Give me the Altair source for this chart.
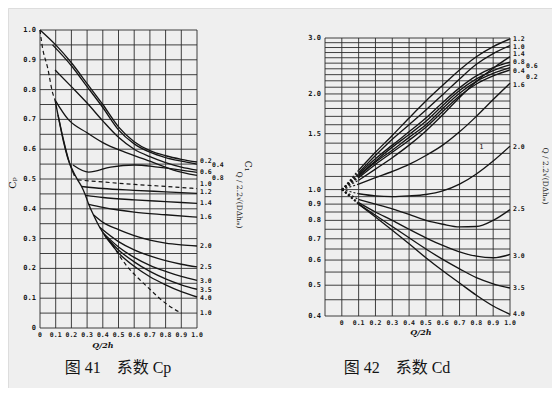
import altair as alt
import pandas as pd

INK = "#151515"
GRID = "#2b2b2b"
MONO = "DejaVu Sans Mono"

# ---------------- Fig. 41 : coefficient Cp ----------------
cp_x_ticks = [0.0, 0.1, 0.2, 0.3, 0.4, 0.5, 0.6, 0.7, 0.8, 0.9, 1.0]
cp_x_tick_labels = ["0", "0.1", "0.2", "0.3", "0.4", "0.5", "0.6", "0.7", "0.8", "0.9", "1.0"]
cp_y_ticks = [0.0, 0.1, 0.2, 0.3, 0.4, 0.5, 0.6, 0.7, 0.8, 0.9, 1.0]
cp_y_tick_labels = ["0", "0.1", "0.2", "0.3", "0.4", "0.5", "0.6", "0.7", "0.8", "0.9", "1.0"]
cp_grid_x = [round(0.1 * k, 2) for k in range(11)]
cp_grid_y = [round(0.05 * k, 2) for k in range(21)]

cp_x = {
    "0.2": [0, 0.1, 0.2, 0.3, 0.4, 0.5, 0.6, 0.7, 0.8, 0.9, 1.0],
    "0.4": [0.08, 0.2, 0.3, 0.4, 0.5, 0.6, 0.7, 0.8, 0.9, 1.0],
    "0.6": [0.096, 0.2, 0.3, 0.4, 0.5, 0.6, 0.7, 0.8, 0.9, 1.0],
    "0.8": [0.096, 0.18, 0.3, 0.4, 0.54, 0.7, 0.85, 1.0],
    "kink": [0.21, 0.31, 0.45, 0.6, 0.75, 0.9, 1.0],
    "1.0": [0.24, 0.4, 0.6, 0.8, 1.0],
    "1.2": [0.265, 0.4, 0.6, 0.8, 1.0],
    "1.4": [0.29, 0.4, 0.6, 0.8, 1.0],
    "1.6": [0.31, 0.4, 0.5, 0.6, 0.8, 1.0],
    "2.0": [0.34, 0.4, 0.5, 0.6, 0.7, 0.8, 0.9, 1.0],
    "2.5": [0.38, 0.5, 0.6, 0.7, 0.8, 0.9, 1.0],
    "3.0": [0.40, 0.5, 0.6, 0.7, 0.8, 0.9, 1.0],
    "3.5": [0.41, 0.5, 0.6, 0.7, 0.8, 0.9, 1.0],
    "4.0": [0.42, 0.5, 0.6, 0.7, 0.8, 0.9, 1.0],
    "envelope": [0.096, 0.12, 0.15, 0.18, 0.21, 0.24, 0.265, 0.29, 0.31, 0.34, 0.38, 0.42, 0.46],
    "envelope2": [0.115, 0.15, 0.19, 0.22],
    "top_dash": [0, 0.013, 0.05, 0.08, 0.096],
    "bottom_dash": [0.46, 0.55, 0.62, 0.68, 0.75, 0.82, 0.9],
}
cp_v = {
    "0.2": [1.0, 0.95, 0.89, 0.82, 0.75, 0.675, 0.625, 0.595, 0.578, 0.566, 0.557],
    "0.4": [0.95, 0.88, 0.81, 0.74, 0.665, 0.618, 0.59, 0.572, 0.56, 0.55],
    "0.6": [0.866, 0.81, 0.755, 0.695, 0.64, 0.60, 0.575, 0.555, 0.54, 0.53],
    "0.8": [0.765, 0.70, 0.655, 0.622, 0.59, 0.56, 0.53, 0.512],
    "kink": [0.547, 0.523, 0.54, 0.547, 0.54, 0.53, 0.522],
    "1.0": [0.497, 0.49, 0.482, 0.475, 0.468],
    "1.2": [0.475, 0.468, 0.462, 0.457, 0.452],
    "1.4": [0.445, 0.438, 0.43, 0.424, 0.418],
    "1.6": [0.415, 0.405, 0.396, 0.389, 0.38, 0.372],
    "2.0": [0.38, 0.355, 0.33, 0.31, 0.295, 0.285, 0.279, 0.275],
    "2.5": [0.338, 0.29, 0.262, 0.242, 0.226, 0.214, 0.205],
    "3.0": [0.32, 0.272, 0.237, 0.21, 0.19, 0.173, 0.16],
    "3.5": [0.312, 0.262, 0.222, 0.19, 0.165, 0.145, 0.13],
    "4.0": [0.305, 0.252, 0.207, 0.172, 0.145, 0.122, 0.104],
    "envelope": [0.765, 0.70, 0.625, 0.565, 0.527, 0.497, 0.475, 0.445, 0.415, 0.38, 0.338, 0.305, 0.28],
    "envelope2": [0.715, 0.63, 0.55, 0.51],
    "top_dash": [1.0, 0.95, 0.87, 0.79, 0.765],
    "bottom_dash": [0.28, 0.21, 0.17, 0.14, 0.105, 0.075, 0.05],
}
cp_dashed = ["1.0", "top_dash", "bottom_dash"]

cp_label_text = ["0.2", "0.4", "0.6", "0.8", "1.0", "1.2", "1.4", "1.6", "2.0", "2.5", "3.0", "3.5", "4.0", "1.0"]
cp_label_v = [0.560, 0.548, 0.522, 0.503, 0.484, 0.456, 0.419, 0.372, 0.275, 0.205, 0.158, 0.128, 0.100, 0.050]
cp_label_second = [False, True, False, True, False, False, False, False, False, False, False, False, False, False]

# ---------------- Fig. 42 : coefficient Cd ----------------
cd_x_ticks = [0.0, 0.1, 0.2, 0.3, 0.4, 0.5, 0.6, 0.7, 0.8, 0.9, 1.0]
cd_x_tick_labels = ["0", "0.1", "0.2", "0.3", "0.4", "0.5", "0.6", "0.7", "0.8", "0.9", "1.0"]
cd_y_ticks = [0.4, 0.5, 0.6, 0.7, 0.8, 0.9, 1.0, 1.5, 2.0, 3.0]
cd_y_tick_labels = ["0.4", "0.5", "0.6", "0.7", "0.8", "0.9", "1.0", "1.5", "2.0", "3.0"]
cd_grid_x = [round(-0.1 + 0.1 * k, 2) for k in range(12)]
cd_grid_y = [round(0.4 + 0.05 * k, 2) for k in range(13)] + [round(1.1 + 0.1 * k, 2) for k in range(20)]

cd_x = [0, 0.1, 0.2, 0.3, 0.4, 0.5, 0.6, 0.7, 0.8, 0.9, 1.0]
cd_v = {
    "1.2": [1.0, 1.15, 1.31, 1.48, 1.68, 1.90, 2.13, 2.38, 2.62, 2.82, 2.98],
    "1.0": [1.0, 1.13, 1.28, 1.44, 1.60, 1.78, 1.99, 2.23, 2.48, 2.68, 2.84],
    "1.4": [1.0, 1.07, 1.16, 1.26, 1.38, 1.53, 1.72, 1.95, 2.19, 2.41, 2.62],
    "0.8": [1.0, 1.12, 1.25, 1.38, 1.52, 1.68, 1.88, 2.09, 2.28, 2.42, 2.52],
    "0.6": [1.0, 1.11, 1.23, 1.36, 1.49, 1.64, 1.84, 2.05, 2.23, 2.37, 2.47],
    "0.4": [1.0, 1.10, 1.22, 1.33, 1.46, 1.60, 1.80, 2.01, 2.19, 2.32, 2.42],
    "0.2": [1.0, 1.09, 1.20, 1.31, 1.43, 1.57, 1.76, 1.97, 2.15, 2.28, 2.38],
    "1.6": [1.0, 1.04, 1.09, 1.14, 1.20, 1.28, 1.38, 1.52, 1.70, 1.92, 2.16],
    "2.0": [1.0, 0.97, 0.955, 0.95, 0.955, 0.965, 0.99, 1.04, 1.12, 1.23, 1.37],
    "2.5": [1.0, 0.93, 0.90, 0.87, 0.835, 0.80, 0.778, 0.763, 0.765, 0.80, 0.865],
    "3.0": [1.0, 0.91, 0.85, 0.80, 0.75, 0.705, 0.667, 0.637, 0.617, 0.61, 0.625],
    "3.5": [1.0, 0.90, 0.83, 0.765, 0.705, 0.65, 0.603, 0.563, 0.528, 0.505, 0.49],
    "4.0": [1.0, 0.90, 0.82, 0.745, 0.675, 0.61, 0.555, 0.508, 0.465, 0.43, 0.405],
}
cd_label_text = ["1.2", "1.0", "1.4", "0.8", "0.6", "0.4", "0.2", "1.6", "2.0", "2.5", "3.0", "3.5", "4.0"]
cd_label_v = [2.98, 2.82, 2.67, 2.53, 2.45, 2.36, 2.26, 2.13, 1.36, 0.869, 0.619, 0.491, 0.405]
cd_label_second = [False, False, False, False, True, False, True, False, False, False, False, False, False]
cd_note_x, cd_note_v, cd_note_text = [0.83], [1.36], ["1"]

# ---------------- frames ----------------
cp_rows = []
for name, xs in cp_x.items():
    for i, (x, v) in enumerate(zip(xs, cp_v[name])):
        cp_rows.append({"s": name, "x": x, "v": v, "i": i})
cp_df = pd.DataFrame(cp_rows)
cp_solid_df = cp_df[~cp_df["s"].isin(cp_dashed)]
cp_dash_df = cp_df[cp_df["s"].isin(cp_dashed)]

cd_rows = []
for name, vs in cd_v.items():
    for i, (x, v) in enumerate(zip(cd_x, vs)):
        cd_rows.append({"s": name, "x": x, "v": v, "i": i})
cd_df = pd.DataFrame(cd_rows)
cd_fan_df = cd_df[cd_df["x"] <= 0.1]
cd_solid_df = cd_df[cd_df["x"] >= 0.1]

cp_xs = alt.Scale(domain=[0, 1], range=[32, 189], nice=False, zero=False)
cp_ys = alt.Scale(domain=[0, 1], range=[320, 22], nice=False, zero=False)
cd_xs = alt.Scale(domain=[-0.1, 1.0], range=[317, 502], nice=False, zero=False)
cd_ys = alt.Scale(type="log", domain=[0.4, 3.0], range=[308, 30], nice=False)


def X(field, sc):
    return alt.X(field, type="quantitative", scale=sc, axis=None)


def Y(field, sc):
    return alt.Y(field, type="quantitative", scale=sc, axis=None)


def panel(xs, ys, gx, gy, xdom, ydom, solid_df, dash_df, dash, xt, xtl, yt, ytl, yt_x,
          lab_text, lab_v, lab_second, lab_dx):
    gh = pd.DataFrame({"v": gy, "x0": xdom[0], "x1": xdom[1]})
    gv = pd.DataFrame({"x": gx, "v0": ydom[0], "v1": ydom[1]})
    grid_h = alt.Chart(gh).mark_rule(color=GRID, strokeWidth=0.9).encode(
        x=X("x0", xs), x2="x1", y=Y("v", ys))
    grid_v = alt.Chart(gv).mark_rule(color=GRID, strokeWidth=0.9).encode(
        x=X("x", xs), y=Y("v0", ys), y2="v1")
    solid = alt.Chart(solid_df).mark_line(color=INK, strokeWidth=1.35, interpolate="monotone").encode(
        x=X("x", xs), y=Y("v", ys), detail="s:N", order="i:Q")
    dashed = alt.Chart(dash_df).mark_line(color=INK, strokeWidth=1.2, strokeDash=dash,
                                          interpolate="monotone").encode(
        x=X("x", xs), y=Y("v", ys), detail="s:N", order="i:Q")
    xt_df = pd.DataFrame({"x": xt, "v": ydom[0], "t": xtl})
    xtick = alt.Chart(xt_df).mark_text(font=MONO, fontSize=6.5, fontWeight="bold", color=INK, dy=7).encode(
        x=X("x", xs), y=Y("v", ys), text="t:N")
    yt_df = pd.DataFrame({"x": yt_x, "v": yt, "t": ytl})
    ytick = alt.Chart(yt_df).mark_text(font=MONO, fontSize=7, fontWeight="bold", color=INK,
                                        align="right", dx=-4).encode(
        x=X("x", xs), y=Y("v", ys), text="t:N")
    lab = pd.DataFrame({"x": xdom[1], "v": lab_v, "t": lab_text, "second": lab_second})
    lab1 = alt.Chart(lab[~lab["second"]]).mark_text(font=MONO, fontSize=6.5, fontWeight="bold", color=INK,
                                                  align="left", dx=lab_dx[0]).encode(
        x=X("x", xs), y=Y("v", ys), text="t:N")
    lab2 = alt.Chart(lab[lab["second"]]).mark_text(font=MONO, fontSize=6.5, fontWeight="bold", color=INK,
                                                 align="left", dx=lab_dx[1]).encode(
        x=X("x", xs), y=Y("v", ys), text="t:N")
    return [grid_h, grid_v, solid, dashed, xtick, ytick, lab1, lab2]


left_layers = panel(cp_xs, cp_ys, cp_grid_x, cp_grid_y, [0, 1], [0, 1], cp_solid_df, cp_dash_df, [4, 3],
                    cp_x_ticks, cp_x_tick_labels, cp_y_ticks, cp_y_tick_labels, 0,
                    cp_label_text, cp_label_v, cp_label_second, [3, 15])
right_layers = panel(cd_xs, cd_ys, cd_grid_x, cd_grid_y, [-0.1, 1.0], [0.4, 3.0], cd_solid_df, cd_fan_df, [2, 2],
                     cd_x_ticks, cd_x_tick_labels, cd_y_ticks, cd_y_tick_labels, -0.1,
                     cd_label_text, cd_label_v, cd_label_second, [3, 16])
note = alt.Chart(pd.DataFrame({"x": cd_note_x, "v": cd_note_v, "t": cd_note_text})).mark_text(
    font=MONO, fontSize=7, color=INK).encode(x=X("x", cd_xs), y=Y("v", cd_ys), text="t:N")
right_layers.append(note)

left = alt.layer(*left_layers)
right = alt.layer(*right_layers)


def label(text, x, y, size=8, angle=0, font="DejaVu Serif", weight="bold", style="normal"):
    return alt.Chart(pd.DataFrame({"t": [text]})).mark_text(
        font=font, fontSize=size, angle=angle, fontWeight=weight, fontStyle=style, color=INK
    ).encode(x=alt.value(x), y=alt.value(y), text="t:N")


NB = "\u00a0"
texts = [
    label("Cₚ", 5, 175, size=10, angle=270, weight="normal"),
    label("Q/2h", 95, 338, size=8, style="italic"),
    label("Q/2h", 413, 325, size=8, style="italic"),
    label("Q / 2.2√(DΔhₘ)", 231, 192, size=7.5, angle=90, weight="normal"),
    label("C₁", 240, 158, size=9, angle=90, weight="normal"),
    label("Q / 2.2√(DΔhₘ)", 537, 168, size=7.5, angle=90, weight="normal"),
    label("图 41" + NB * 4 + "系数 Cp", 110, 360, size=16, font="Liberation Serif, Noto Sans CJK SC", weight="normal"),
    label("图 42" + NB * 4 + "系数 Cd", 389, 360, size=16, font="Liberation Serif, Noto Sans CJK SC", weight="normal"),
]

chart = alt.layer(left, right, *texts).resolve_scale(
    x="independent", y="independent"
).properties(
    width=544, height=380, autosize=alt.AutoSizeParams(type="none"), padding=0
).configure_view(stroke=None).configure(background="#efefef")

chart.save("out.html", embed_options={"renderer": "svg", "actions": False})
